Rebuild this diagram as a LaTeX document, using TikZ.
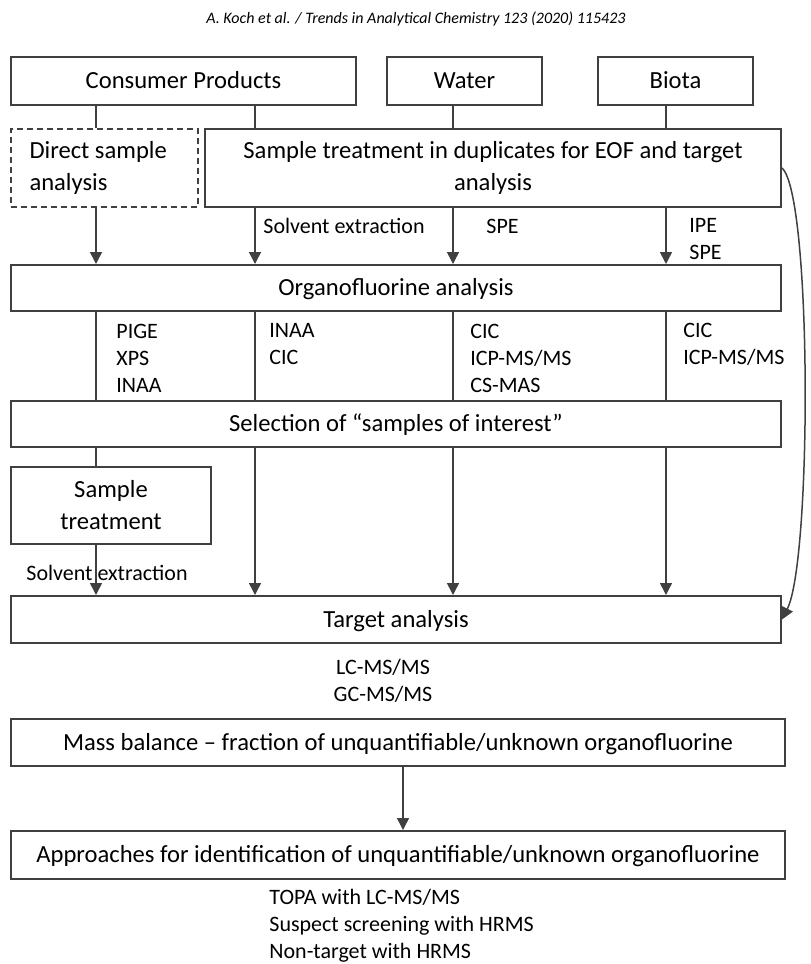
\documentclass[tikz,border=0pt]{standalone}
\usepackage{fontspec}
\setmainfont{Carlito}
\usetikzlibrary{arrows.meta}

\begin{document}
\begin{tikzpicture}[x=0.5pt, y=-0.5pt,
    box/.style={draw=black!75, line width=1pt, inner sep=0pt, font=\fontsize{12.3}{16}\selectfont},
    one/.style={box, text height=9.6pt, text depth=2pt},
    lbl/.style={inner sep=0pt, align=left, anchor=west, font=\fontsize{11}{13.5}\selectfont},
    link/.style={draw=black!75, line width=0.75pt},
    arr/.style={link, -{Triangle[width=6pt, length=6pt]}}]
    \useasboundingbox (0,0) rectangle (810,964);

    \node[font=\fontsize{8}{10}\selectfont\itshape] (head) at (416,19) {A. Koch et al. / Trends in Analytical Chemistry 123 (2020) 115423};

    % matrices
    \node[one, minimum width=172.5pt, minimum height=24pt] (cons) at (183.5,81) {Consumer Products};
    \node[one, minimum width=77.5pt, minimum height=24pt] (water) at (464.5,81) {Water};
    \node[one, minimum width=77.5pt, minimum height=24pt] (biota) at (675.5,81) {Biota};

    \node[box, dash pattern=on 3pt off 2pt, minimum width=93.5pt, minimum height=39pt, text width=75pt, align=flush left] (direct) at (104.5,168) {Direct sample\\analysis};
    \node[box, minimum width=288pt, minimum height=39pt, align=center] (treat) at (493,168) {Sample treatment in duplicates for EOF and target\\analysis};
    \node[one, minimum width=385pt, minimum height=23pt] (org) at (396,288) {Organofluorine analysis};
    \node[one, minimum width=385pt, minimum height=23pt] (sel) at (396,424) {Selection of “samples of interest”};
    \node[box, minimum width=100pt, minimum height=38.5pt, align=center] (samp) at (111,505.5) {Sample\\treatment};
    \node[one, minimum width=385pt, minimum height=23.5pt] (target) at (396,619.5) {Target analysis};
    \node[one, minimum width=387pt, minimum height=23.5pt] (mass) at (398,742.5) {Mass balance -- fraction of unquantifiable/unknown organofluorine};
    \node[one, minimum width=387pt, minimum height=24pt] (appr) at (398,855) {Approaches for identification of unquantifiable/unknown organofluorine};

    % columns
    \coordinate (ca) at (96,0);
    \coordinate (cb) at (255,0);
    \coordinate (cc) at (453,0);
    \coordinate (cd) at (666,0);
    \coordinate (ce) at (403,0);

    \draw[link] (cons.south -| ca) -- (direct.north -| ca);
    \draw[link] (cons.south -| cb) -- (treat.north -| cb);
    \draw[link] (water.south -| cc) -- (treat.north -| cc);
    \draw[link] (biota.south -| cd) -- (treat.north -| cd);
    \draw[arr] (direct.south -| ca) -- (org.north -| ca);
    \foreach \c in {cb,cc,cd}
        \draw[arr] (treat.south -| \c) -- (org.north -| \c);
    \foreach \c in {ca,cb,cc,cd}
        \draw[link] (org.south -| \c) -- (sel.north -| \c);
    \draw[link] (sel.south -| ca) -- (samp.north -| ca);
    \draw[arr] (samp.south -| ca) -- (target.north -| ca);
    \foreach \c in {cb,cc,cd}
        \draw[arr] (sel.south -| \c) -- (target.north -| \c);
    \draw[arr] (mass.south -| ce) -- (appr.north -| ce);
    \draw[arr] (treat.east) .. controls (812,195) and (812,560) .. (target.east); % bypass

    % methods
    \node[lbl] (solv1) at (263,226) {Solvent extraction};
    \node[lbl] (spe1) at (486,226) {SPE};
    \node[lbl] (ipe) at (689,239) {IPE\\SPE};
    \node[lbl] (ana1) at (116,358) {PIGE\\XPS\\INAA};
    \node[lbl] (ana2) at (269,344.5) {INAA\\CIC};
    \node[lbl] (ana3) at (470,358) {CIC\\ICP-MS/MS\\CS-MAS};
    \node[lbl] (ana4) at (683,344.5) {CIC\\ICP-MS/MS};
    \node[lbl, anchor=center] (solv2) at (107,573) {Solvent extraction};
    \node[lbl, anchor=center, align=center] (lcms) at (383,680.5) {LC-MS/MS\\GC-MS/MS};
    \node[lbl] (topa) at (269,926) {TOPA with LC-MS/MS\\Suspect screening with HRMS\\Non-target with HRMS};
\end{tikzpicture}
\end{document}
